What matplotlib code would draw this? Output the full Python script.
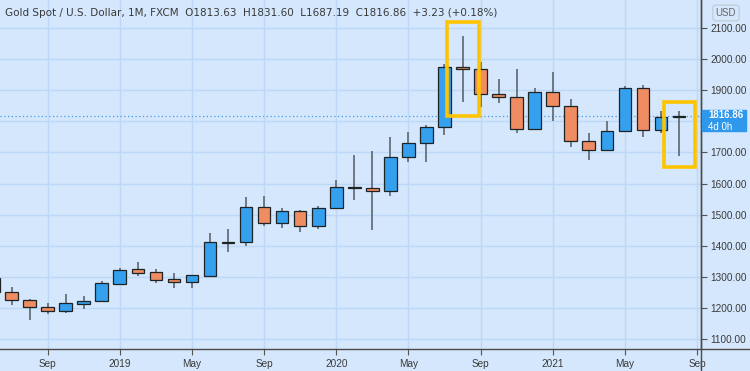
import numpy as np
import pandas as pd
import matplotlib
matplotlib.use("Agg")
import matplotlib.pyplot as plt
from matplotlib.patches import Rectangle
from matplotlib.lines import Line2D

# monthly candles, Jun 2018 .. Aug 2021
months = pd.date_range("2018-06-01", "2021-08-01", freq="MS")
opens = [1298, 1253, 1225, 1203, 1192, 1214, 1222, 1278, 1325, 1316, 1293, 1285, 1304, 1409, 1412,
         1524, 1472, 1513, 1465, 1520, 1590, 1586, 1575, 1686, 1731, 1780, 1975, 1966, 1886, 1879,
         1776, 1894, 1848, 1735, 1708, 1768, 1905, 1771, 1813.63]
highs = [1309, 1267, 1228, 1216, 1245, 1239, 1287, 1328, 1349, 1325, 1312, 1306, 1442, 1454, 1558,
         1560, 1520, 1515, 1527, 1611, 1692, 1704, 1750, 1766, 1788, 1983, 2073, 1991, 1934, 1966,
         1905, 1959, 1871, 1761, 1800, 1914, 1916, 1834, 1831.60]
lows = [1250, 1210, 1162, 1181, 1183, 1196, 1221, 1276, 1302, 1282, 1266, 1266, 1304, 1381, 1399,
        1465, 1458, 1444, 1454, 1518, 1548, 1451, 1560, 1670, 1670, 1757, 1863, 1846, 1859, 1763,
        1775, 1800, 1718, 1676, 1705, 1765, 1750, 1763, 1687.19]
closes = [1253, 1225, 1203, 1192, 1215, 1222, 1280, 1322, 1314, 1291, 1285, 1305, 1411, 1413, 1524,
          1472, 1513, 1465, 1520, 1589, 1584, 1577, 1686, 1731, 1780, 1973, 1967, 1886, 1878, 1776,
          1894, 1848, 1735, 1708, 1768, 1905, 1771, 1813, 1816.86]

title = ("Gold Spot / U.S. Dollar, 1M, FXCM  O1813.63  H1831.60  L1687.19  "
         "C1816.86  +3.23 (+0.18%)")
last_price = 1816.86
highlight = [26, 38]          # Aug 2020 and Aug 2021
highlight_pad = [(46, 46), (33, 29)]

BG = "#d4e7fc"
GRID = "#bcd8f6"
UP = "#35a0ee"
DOWN = "#ef8c61"
TXT = "#3a3a3a"
AXFONT = "Liberation Sans"

W, H = 750, 371
fig = plt.figure(figsize=(W / 100, H / 100), dpi=100, facecolor=BG)
ax = fig.add_axes([0, 22 / H, 701 / W, 349 / H], facecolor=BG)

x = np.arange(len(months))
o = np.array(opens); c = np.array(closes)
hi = np.array(highs); lo = np.array(lows)
up = c >= o
cols = np.where(up, UP, DOWN)
body_low = np.minimum(o, c)
body_h = np.maximum(np.abs(c - o), 2.5)

ax.vlines(x, lo, hi, color="#5c6670", lw=1.2, zorder=2)
ax.bar(x, body_h, bottom=body_low, width=0.7, color=cols, edgecolor="#1e2326",
       lw=0.9, zorder=3)

# ticks: Jan / May / Sep, including next (Sep 2021) slot
all_months = pd.date_range("2018-06-01", "2021-09-01", freq="MS")
tpos, tlab = [], []
for i, m in enumerate(all_months):
    if m.month in (1, 5, 9):
        tpos.append(i)
        tlab.append(str(m.year) if m.month == 1 else m.strftime("%b"))
ax.set_xticks(tpos)
ax.set_xticklabels(tlab, fontsize=7.2, color=TXT, family=AXFONT)
ax.set_xlim(0.36, 39.22)

yt = np.arange(1100, 2101, 100)
ax.set_ylim(1068.9, 2188.9)
ax.yaxis.tick_right()
ax.set_yticks(yt)
ax.set_yticklabels([f"{v:.2f}" for v in yt], fontsize=7.2, color=TXT, family=AXFONT)
ax.tick_params(axis="both", length=4, width=0.8, color="#555", pad=3)

ax.grid(True, color=GRID, lw=1, zorder=0)
ax.set_axisbelow(True)
for s in ["top", "left"]:
    ax.spines[s].set_visible(False)
for s in ["right", "bottom"]:
    ax.spines[s].set_color("#4a4a4a")
    ax.spines[s].set_linewidth(1)

# last price dotted line
ax.axhline(last_price, color="#4a9be6", lw=0.9, ls=(0, (1, 2)), zorder=1)

# highlight boxes
for idx, (pl, ph) in zip(highlight, highlight_pad):
    ax.add_patch(Rectangle((idx - 0.85, lows[idx] - pl), 1.75, highs[idx] - lows[idx] + pl + ph,
                           fill=False, ec="#ffc400", lw=2.6, zorder=5))

ax.text(5 / 701, 1 - 13 / 349, title, transform=ax.transAxes, fontsize=7.5,
        color=TXT, va="center", ha="left")

# extend axis lines into the price panel
fig.add_artist(Line2D([701 / W, 701 / W], [0, 1], color="#4a4a4a", lw=1))
fig.add_artist(Line2D([701 / W, 1], [22 / H, 22 / H], color="#4a4a4a", lw=1))

# price label
fig.add_artist(Rectangle((701.5 / W, 1 - 131 / H), 44 / W, 21 / H, color="#2f98ec",
                         transform=fig.transFigure, zorder=6))
fig.text(708 / W, 1 - 115 / H, "1816.86", color="white", fontsize=7,
         fontweight="bold", va="center", family=AXFONT, zorder=7)
fig.text(708 / W, 1 - 126.5 / H, "4d 0h", color="white", fontsize=7, va="center",
         family=AXFONT, zorder=7)

# currency badge
fig.text(726 / W, 1 - 13 / H, "USD", color="#666", fontsize=7, ha="center", va="center",
         family=AXFONT, bbox=dict(boxstyle="round,pad=0.3", fc=BG, ec="#c0c8d0", lw=0.8))

fig.savefig("out.png", dpi=100, facecolor=BG)
